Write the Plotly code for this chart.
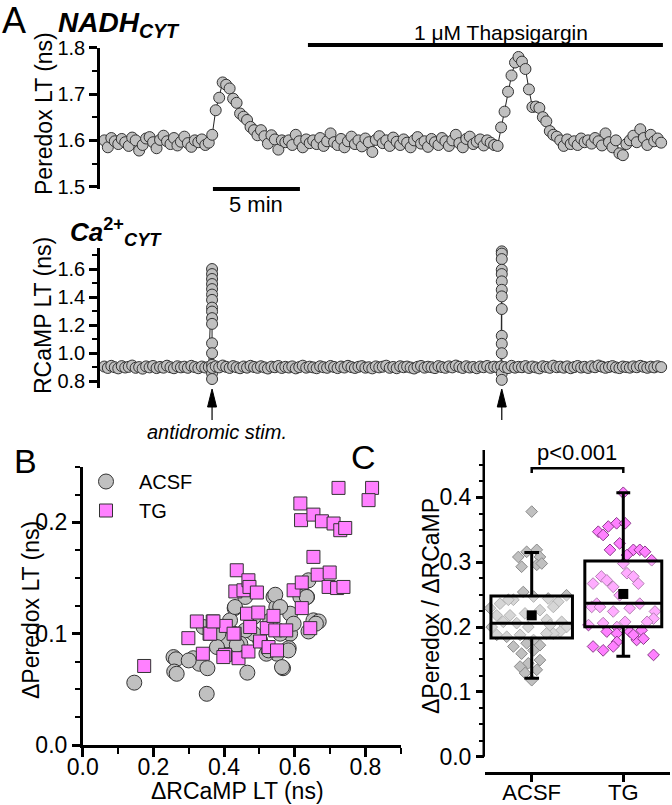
import plotly.graph_objects as go

FONT = "Liberation Sans, Arial, sans-serif"
W, H = 672, 805

# ---------------- data ----------------
STEP = 0.2  # min between samples
peredox = [
    1.600, 1.585, 1.605, 1.598, 1.592, 1.603, 1.596, 1.588, 1.606, 1.600,
    1.578, 1.590, 1.604, 1.607, 1.596, 1.583, 1.601, 1.610, 1.598, 1.592,
    1.605, 1.589, 1.597, 1.608, 1.594, 1.586, 1.600, 1.596, 1.602, 1.590,
    1.595, 1.612, 1.665, 1.692, 1.725, 1.720, 1.712, 1.690, 1.681, 1.658,
    1.651, 1.644, 1.629, 1.622, 1.611, 1.622, 1.609, 1.593, 1.611, 1.602,
    1.580, 1.600, 1.596, 1.600, 1.590, 1.612, 1.598, 1.585, 1.602, 1.594,
    1.600, 1.592, 1.605, 1.588, 1.598, 1.615, 1.596, 1.590, 1.603, 1.585,
    1.598, 1.608, 1.592, 1.600, 1.587, 1.604, 1.596, 1.575, 1.601, 1.609,
    1.594, 1.600, 1.588, 1.606, 1.597, 1.590, 1.602, 1.595, 1.585, 1.600,
    1.607, 1.593, 1.598, 1.586, 1.603, 1.596, 1.590, 1.605, 1.598, 1.588,
    1.600, 1.612, 1.594, 1.585, 1.603, 1.608, 1.592, 1.597, 1.602, 1.589,
    1.600, 1.595, 1.590, 1.588, 1.628, 1.662, 1.705, 1.740, 1.768, 1.780,
    1.770, 1.754, 1.710, 1.672, 1.673, 1.670, 1.650, 1.641, 1.620, 1.612,
    1.608, 1.600, 1.588, 1.602, 1.592, 1.598, 1.590, 1.604, 1.596, 1.600,
    1.593, 1.605, 1.598, 1.589, 1.615, 1.596, 1.585, 1.600, 1.572, 1.568,
    1.592, 1.600, 1.610, 1.596, 1.624, 1.605, 1.590, 1.612, 1.598, 1.604,
    1.595,
]
rcamp = [
    0.905, 0.895, 0.910, 0.900, 0.892, 0.908, 0.898, 0.903, 0.912, 0.896,
    0.901, 0.890, 0.906, 0.899, 0.909, 0.894, 0.902, 0.897, 0.911, 0.900,
    0.893, 0.907, 0.899, 0.904, 0.896, 0.910, 0.901, 0.893, 0.905, 0.898,
    0.902, 0.895,
    0.906, 0.899, 0.912, 0.903, 0.895, 0.908, 0.900, 0.893, 0.905, 0.897,
    0.910, 0.902, 0.896, 0.907, 0.899, 0.891, 0.904, 0.900, 0.909, 0.895,
    0.903, 0.898, 0.906, 0.892, 0.901, 0.911, 0.897, 0.904, 0.899, 0.893,
    0.907, 0.900, 0.896, 0.909, 0.902, 0.894, 0.905, 0.898, 0.910, 0.901,
    0.895, 0.903, 0.908, 0.897, 0.900, 0.892, 0.906, 0.899, 0.904, 0.911,
    0.896, 0.902, 0.893, 0.907, 0.900, 0.905, 0.898, 0.891, 0.903, 0.909,
    0.897, 0.904, 0.900, 0.894, 0.908, 0.901, 0.896, 0.906, 0.899, 0.912,
    0.903, 0.895, 0.907, 0.898, 0.902, 0.893, 0.905, 0.900, 0.909, 0.896,
    0.904, 0.899, 0.906, 0.901, 0.894, 0.910, 0.897, 0.903, 0.900, 0.908,
    0.895, 0.905, 0.899, 0.892, 0.907, 0.902, 0.896, 0.911, 0.900, 0.904,
    0.897, 0.906, 0.893, 0.901, 0.909, 0.898, 0.903, 0.895, 0.907, 0.900,
    0.912, 0.904, 0.896, 0.902, 0.908, 0.899, 0.894, 0.905, 0.901, 0.897,
    0.906, 0.900, 0.910, 0.903, 0.896, 0.904, 0.899, 0.907, 0.901,
]
stim_times = [6.19, 22.84]  # min
burst1 = [1.600, 1.564, 1.529, 1.493, 1.457, 1.418, 1.380, 1.325, 1.297, 1.250,
          1.209, 1.071, 1.000, 0.917, 0.857, 0.816]
burst2 = [1.726, 1.710, 1.671, 1.595, 1.564, 1.512, 1.452, 1.405, 1.315, 1.124,
          1.067, 1.000, 0.857, 0.810]
tg_start, tg_end = 11.7, 32.1
scale_start, scale_len = 6.24, 5.0

# Panel B
acsf_dR = [0.146, 0.351, 0.257, 0.264, 0.259, 0.266, 0.313, 0.330, 0.353, 0.466,
           0.567, 0.430, 0.460, 0.540, 0.548, 0.587, 0.587, 0.616, 0.635, 0.639,
           0.653, 0.668, 0.639, 0.583, 0.550, 0.520, 0.502, 0.484, 0.460, 0.427,
           0.408, 0.384, 0.342, 0.380, 0.446, 0.559, 0.597, 0.417, 0.484, 0.531,
           0.545, 0.634, 0.559, 0.431, 0.436, 0.526, 0.582, 0.300, 0.660, 0.564]
acsf_dP = [0.056, 0.046, 0.079, 0.077, 0.066, 0.064, 0.078, 0.073, 0.069, 0.065,
           0.069, 0.123, 0.133, 0.133, 0.124, 0.118, 0.100, 0.133, 0.133, 0.148,
           0.112, 0.111, 0.102, 0.087, 0.082, 0.082, 0.094, 0.100, 0.103, 0.100,
           0.094, 0.100, 0.106, 0.088, 0.091, 0.100, 0.109, 0.112, 0.115, 0.112,
           0.135, 0.133, 0.124, 0.124, 0.090, 0.085, 0.085, 0.076, 0.109, 0.070]
tg_dR = [0.174, 0.299, 0.323, 0.340, 0.359, 0.368, 0.403, 0.430, 0.405, 0.436,
         0.432, 0.455, 0.469, 0.472, 0.493, 0.441, 0.465, 0.474, 0.469, 0.497,
         0.502, 0.521, 0.526, 0.540, 0.545, 0.550, 0.576, 0.597, 0.620, 0.620,
         0.644, 0.653, 0.665, 0.696, 0.699, 0.720, 0.616, 0.618, 0.653, 0.677,
         0.710, 0.729, 0.724, 0.819, 0.809, 0.743, 0.738, 0.398, 0.427, 0.361,
         0.370]
tg_dP = [0.071, 0.096, 0.111, 0.082, 0.100, 0.111, 0.081, 0.100, 0.107, 0.157,
         0.138, 0.139, 0.148, 0.142, 0.137, 0.078, 0.118, 0.106, 0.084, 0.119,
         0.093, 0.105, 0.088, 0.116, 0.103, 0.085, 0.103, 0.139, 0.123, 0.146,
         0.105, 0.169, 0.153, 0.142, 0.155, 0.141, 0.217, 0.202, 0.207, 0.201,
         0.199, 0.193, 0.231, 0.231, 0.220, 0.195, 0.142, 0.079, 0.100, 0.100,
         0.111]

# Panel C
groups = ["ACSF", "TG"]
acsf_ratio = [0.378, 0.308, 0.316, 0.319, 0.308, 0.293, 0.296, 0.298, 0.254, 0.247,
              0.242, 0.236, 0.242, 0.229, 0.244, 0.249, 0.239, 0.231, 0.226, 0.221,
              0.218, 0.218, 0.200, 0.208, 0.206, 0.200, 0.211, 0.208, 0.200, 0.193,
              0.190, 0.188, 0.185, 0.188, 0.180, 0.172, 0.175, 0.170, 0.159, 0.164,
              0.149, 0.144, 0.139, 0.129, 0.134, 0.118, 0.190, 0.203]
acsf_jit = [0.0, -0.146, -0.055, 0.055, 0.09, -0.11, 0.055, 0.11, -0.092, 0.02,
            -0.20, -0.346, -0.255, -0.455, 0.18, 0.38, 0.29, 0.236, 0.09, -0.073,
            -0.237, -0.382, -0.437, -0.31, -0.164, -0.037, 0.164, 0.327, 0.38, 0.31,
            0.236, -0.382, -0.273, -0.127, 0.02, 0.09, -0.055, -0.20, -0.11, 0.02,
            0.09, -0.037, -0.127, -0.073, 0.055, 0.0, 0.16, 0.2]
tg_ratio = [0.407, 0.347, 0.342, 0.355, 0.360, 0.360, 0.329, 0.319, 0.319, 0.319,
            0.316, 0.311, 0.303, 0.298, 0.278, 0.272, 0.283, 0.278, 0.267, 0.267,
            0.262, 0.249, 0.236, 0.231, 0.231, 0.224, 0.229, 0.236, 0.224, 0.213,
            0.208, 0.203, 0.206, 0.200, 0.208, 0.193, 0.190, 0.193, 0.195, 0.177,
            0.180, 0.182, 0.188, 0.170, 0.164, 0.157, 0.170]
tg_jit = [0.0, -0.273, -0.22, -0.164, -0.073, 0.02, -0.04, -0.145, 0.11, 0.18,
          0.237, 0.04, 0.31, 0.0, -0.24, -0.18, 0.04, 0.11, 0.164, -0.33,
          -0.11, -0.04, -0.29, -0.345, -0.255, -0.11, 0.07, 0.18, 0.346, 0.33,
          0.26, -0.38, -0.22, -0.07, 0.02, -0.18, -0.07, 0.07, 0.2, -0.07,
          0.146, 0.22, 0.11, -0.33, -0.22, 0.33, -0.11]
box_q1 = [0.183, 0.2005]
box_median = [0.206, 0.2365]
box_q3 = [0.248, 0.302]
box_low = [0.121, 0.155]
box_high = [0.315, 0.407]
box_mean = [0.218, 0.251]
p_text = "p<0.001"

GRAY = "#c0c0c0"
PINK = "#ff80ff"

# ---------------- helpers ----------------
def px(x):
    return x / W

def py(y):
    return 1 - y / H

t_per = [round(i * STEP, 3) for i in range(len(peredox))]
t_rc = [round(i * STEP, 3) for i in range(len(rcamp))]
rc_pts = list(zip(t_rc, rcamp))
for tb, vals in zip(stim_times, [burst1, burst2]):
    idx = next(i for i, p in enumerate(rc_pts) if p[0] > tb)
    rc_pts = rc_pts[:idx] + [(tb, v) for v in vals] + rc_pts[idx:]
rc_x = [p[0] for p in rc_pts]
rc_y = [p[1] for p in rc_pts]

fig = go.Figure()

circ = dict(symbol="circle", size=11, color=GRAY, line=dict(color="#333333", width=1))
fig.add_trace(go.Scatter(x=t_per, y=peredox, mode="lines+markers", marker=circ,
                         line=dict(color="#222222", width=1), xaxis="x", yaxis="y",
                         showlegend=False, cliponaxis=False))
fig.add_trace(go.Scatter(x=rc_x, y=rc_y, mode="lines+markers", marker=circ,
                         line=dict(color="#222222", width=1), xaxis="x2", yaxis="y2",
                         showlegend=False, cliponaxis=False))

# Panel B
fig.add_trace(go.Scatter(x=acsf_dR, y=acsf_dP, mode="markers", name="ACSF",
                         marker=dict(symbol="circle", size=15, color=GRAY,
                                     line=dict(color="#333333", width=1)),
                         xaxis="x5", yaxis="y5", cliponaxis=False))
fig.add_trace(go.Scatter(x=tg_dR, y=tg_dP, mode="markers", name="TG",
                         marker=dict(symbol="square", size=13, color=PINK,
                                     line=dict(color="#333333", width=1)),
                         xaxis="x5", yaxis="y5", cliponaxis=False))

# Panel C points
fig.add_trace(go.Scatter(x=[1 + j for j in acsf_jit], y=acsf_ratio, mode="markers",
                         marker=dict(symbol="diamond", size=9, color=GRAY,
                                     line=dict(color="#8a8a8a", width=1)),
                         xaxis="x3", yaxis="y3", showlegend=False, cliponaxis=False))
fig.add_trace(go.Scatter(x=[2 + j for j in tg_jit], y=tg_ratio, mode="markers",
                         marker=dict(symbol="diamond", size=9, color=PINK,
                                     line=dict(color="#8a3a8a", width=1)),
                         xaxis="x3", yaxis="y3", showlegend=False, cliponaxis=False))
for i, w in enumerate([0.89, 0.84]):
    fig.add_trace(go.Box(x=[i + 1], q1=[box_q1[i]], median=[box_median[i]], q3=[box_q3[i]],
                         lowerfence=[box_low[i]], upperfence=[box_high[i]],
                         width=w, whiskerwidth=0.18, boxpoints=False,
                         line=dict(color="black", width=3),
                         fillcolor="rgba(255,255,255,0.35)",
                         xaxis="x4", yaxis="y4", showlegend=False, hoverinfo="skip"))
fig.add_trace(go.Scatter(x=[1, 2], y=box_mean, mode="markers",
                         marker=dict(symbol="square", size=10, color="black"),
                         xaxis="x4", yaxis="y4", showlegend=False, cliponaxis=False))

# ---------------- axes ----------------
def yax(domain, rng, dtick, mdtick, fs, anchor):
    return dict(domain=domain, range=rng, anchor=anchor, showline=True, linewidth=2.5,
                linecolor="black", ticks="outside", ticklen=8, tickwidth=2.5,
                tickcolor="black", tick0=0, dtick=dtick, tickformat=".1f",
                tickfont=dict(size=fs, color="black", family=FONT),
                minor=dict(ticks="outside", ticklen=5, tickwidth=2, dtick=mdtick,
                           tick0=0, tickcolor="black"),
                showgrid=False, zeroline=False, automargin=False)

xdomA = [px(100), px(665)]
trange = [-0.25, 32.22]
fig.update_layout(
    template="none",
    xaxis=dict(domain=xdomA, range=trange, visible=False, anchor="y", automargin=False),
    yaxis=yax([py(189), py(47.7)], [1.495, 1.8], 0.1, 0.05, 20, "x"),
    xaxis2=dict(domain=xdomA, range=trange, visible=False, anchor="y2", automargin=False),
    yaxis2=yax([py(388), py(248)], [0.752, 1.75], 0.2, 0.1, 20, "x2"),
    xaxis5=dict(domain=[px(82.7), px(400.7)], range=[0, 0.9], anchor="y5",
                showline=True, linewidth=2.5, linecolor="black", ticks="outside",
                ticklen=9, tickwidth=2.5, tickcolor="black", tick0=0, dtick=0.2,
                tickformat=".1f", tickfont=dict(size=23, color="black", family=FONT),
                ticklabelstandoff=-9,
                minor=dict(ticks="outside", ticklen=6, tickwidth=2, dtick=0.1,
                           tick0=0, tickcolor="black"),
                showgrid=False, zeroline=False, automargin=False),
    yaxis5=yax([py(745), py(466.75)], [0, 0.25], 0.1, 0.025, 23, "x5"),
    xaxis3=dict(domain=[px(485), px(670)], range=[0.49, 2.51], anchor="y3",
                showline=True, linewidth=2.5, linecolor="black", ticks="outside",
                ticklen=8, tickwidth=2.5, tickcolor="black",
                tickvals=[1, 2], ticktext=groups, ticklabelstandoff=-9,
                tickfont=dict(size=22, color="black", family=FONT),
                showgrid=False, zeroline=False, automargin=False),
    yaxis3=dict(yax([py(771.7), py(450)], [-0.0231, 0.473], 0.1, 0.025, 23, "x3"),
                showline=False),
    xaxis4=dict(range=[0.49, 2.51], overlaying="x3", anchor="y4", visible=False,
                automargin=False),
    yaxis4=dict(range=[-0.0231, 0.473], overlaying="y3", anchor="x4", visible=False,
                automargin=False),
)
fig.update_layout(yaxis3=dict(tickvals=[0, 0.1, 0.2, 0.3, 0.4]))

# ---------------- shapes ----------------
shapes = []
shapes.append(dict(type="line", xref="x", yref="paper", x0=tg_start, x1=tg_end,
                   y0=py(45), y1=py(45), line=dict(color="black", width=4)))
shapes.append(dict(type="line", xref="x", yref="paper", x0=scale_start,
                   x1=scale_start + scale_len, y0=py(189), y1=py(189),
                   line=dict(color="black", width=4)))
hw = 4.5 / 17.4
for tb in stim_times:
    shapes.append(dict(type="line", xref="x2", yref="paper", x0=tb, x1=tb,
                       y0=py(420), y1=py(405), line=dict(color="black", width=1.2)))
    shapes.append(dict(type="path", xref="x2", yref="paper",
                       path=f"M {tb - hw},{py(407)} L {tb},{py(389)} L {tb + hw},{py(407)} Z",
                       fillcolor="black", line=dict(color="black", width=1)))
# panel C y-axis line (starts at 0)
shapes.append(dict(type="line", xref="paper", yref="y3", x0=px(485) - 1.25 / W,
                   x1=px(485) - 1.25 / W, y0=0, y1=0.473,
                   line=dict(color="black", width=2.5)))
# significance bracket
shapes.append(dict(type="path", xref="x3", yref="y3",
                   path="M 1,0.4375 L 1,0.4447 L 2,0.4447 L 2,0.4375",
                   line=dict(color="black", width=2.5)))

# ---------------- annotations ----------------
def ann(text, x, y, size, xanchor="center", yanchor="middle", angle=0, **kw):
    return dict(text=text, x=px(x), y=py(y), xref="paper", yref="paper",
                showarrow=False, xanchor=xanchor, yanchor=yanchor, textangle=angle,
                font=dict(size=size, color="black", family=FONT), **kw)

anns = [
    ann("A", 14, 20, 36),
    ann("<b><i>NADH</i></b><sub><b><i>CYT</i></b></sub>", 56, 24, 28, xanchor="left"),
    ann("<b><i>Ca</i></b><sup><b>2+</b></sup><sub><b><i>CYT</i></b></sub>", 68, 232, 26,
        xanchor="left"),
    ann("Peredox LT (ns)", 44, 114, 23, angle=-90),
    ann("RCaMP LT (ns)", 43, 316, 23, angle=-90),
    ann("1 μM Thapsigargin", 501, 32, 21),
    ann("5 min", 256, 205, 22),
    ann("<i>antidromic stim.</i>", 217, 432, 20),
    ann("B", 25, 461, 34),
    ann("ΔPeredox LT (ns)", 31, 610, 23, angle=-90),
    ann("ΔRCaMP LT (ns)", 237, 791, 23),
    ann("C", 363, 457, 34),
    ann("ΔPeredox / ΔRCaMP", 431, 606, 23, angle=-90),
    ann(p_text, 577, 452, 22),
]

fig.update_layout(
    width=W, height=H, margin=dict(l=0, r=0, t=0, b=0, pad=0),
    paper_bgcolor="white", plot_bgcolor="white",
    font=dict(family=FONT, color="black"),
    shapes=shapes, annotations=anns,
    legend=dict(x=px(73), y=py(462), xanchor="left", yanchor="top",
                font=dict(size=20, color="black", family=FONT),
                bgcolor="rgba(0,0,0,0)", tracegroupgap=0, itemwidth=56),
    showlegend=True,
)

fig.write_html("out.html", config={"displayModeBar": False},
               post_script="document.body.style.margin='0';")
